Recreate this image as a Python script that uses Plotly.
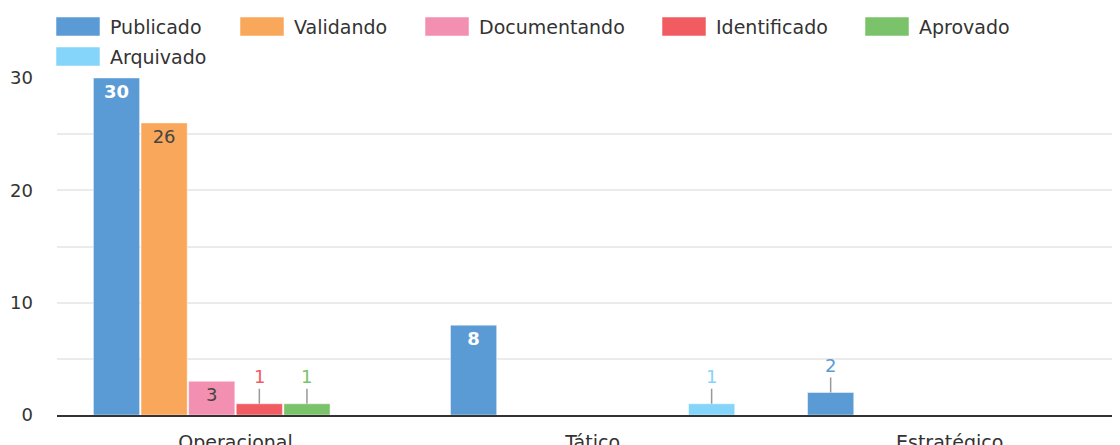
import plotly.graph_objects as go

categories = ["Operacional", "Tático", "Estratégico"]
series_names = ["Publicado", "Validando", "Documentando", "Identificado", "Aprovado", "Arquivado"]
publicado = [30, 8, 2]
validando = [26, None, None]
documentando = [3, None, None]
identificado = [1, None, None]
aprovado = [1, None, None]
arquivado = [None, 1, None]

series_values = [publicado, validando, documentando, identificado, aprovado, arquivado]
colors = ["#5B9BD5", "#F9A75B", "#F38FB0", "#F15C62", "#7AC36A", "#84D5F9"]
inside_font_colors = ["white", "#444444", "#444444", "#444444", "#444444", "#444444"]

BARGAP = 0.2
FONT = "DejaVu Sans, Arial, sans-serif"

# the page body adds an 8px margin, so the figure is drawn 8px smaller
W, H = 1112, 437
ML, MT, MB = 49, 70, 30
PW, PH = W - ML, H - MT - MB

def px_x(px):
    return (px - 8 - ML) / PW

def px_y(py):
    return (H - MB - (py - 8)) / PH

fig = go.Figure()
annotations = []
shapes = []
n = len(series_names)
for k, (name, vals, col, tcol) in enumerate(zip(series_names, series_values, colors, inside_font_colors)):
    if tcol == "white":
        texts = [f"<b>{v}</b>" if v is not None and v >= 3 else "" for v in vals]
    else:
        texts = [str(v) if v is not None and v >= 3 else "" for v in vals]
    fig.add_trace(go.Bar(
        name=name, x=categories, y=vals, marker_color=col,
        marker_line=dict(width=1, color="rgba(255,255,255,0.45)"),
        text=texts, textposition="inside", insidetextanchor="end",
        textfont=dict(color=tcol, size=18, family=FONT),
        hoverinfo="x+y+name",
    ))
    # small values get a label above the bar with a leader line
    offset = -(1 - BARGAP) / 2 + (k + 0.5) * (1 - BARGAP) / n
    for i, v in enumerate(vals):
        if v is not None and v < 3:
            annotations.append(dict(
                x=i + offset, y=v, xref="x", yref="y", text=str(v),
                showarrow=True, arrowhead=0, arrowwidth=1.5, arrowcolor="#999999",
                ax=0, ay=-27, font=dict(color=col, size=18, family=FONT),
            ))

# legend drawn by hand: wide swatches, two rows
legend_pos = [(56, 17), (240, 17), (425, 17), (662, 17), (865, 17), (56, 47)]
for name, col, (lx, ly) in zip(series_names, colors, legend_pos):
    shapes.append(dict(type="rect", xref="paper", yref="paper",
                       x0=px_x(lx), x1=px_x(lx + 44), y0=px_y(ly), y1=px_y(ly + 19),
                       fillcolor=col, line=dict(width=1, color="rgba(255,255,255,0.5)")))
    annotations.append(dict(x=px_x(lx + 52), y=px_y(ly + 9.5), xref="paper", yref="paper",
                            text=name, showarrow=False, xanchor="left", yanchor="middle",
                            font=dict(size=19, color="#333333", family=FONT)))

fig.update_layout(
    barmode="group", bargap=BARGAP, bargroupgap=0.03,
    width=W, height=H,
    margin=dict(l=ML, r=0, t=MT, b=MB, autoexpand=False),
    paper_bgcolor="white", plot_bgcolor="white",
    font=dict(family=FONT, size=18, color="#333333"),
    showlegend=False,
    annotations=annotations,
    shapes=shapes,
)
fig.update_xaxes(range=[-0.5, 2.477], showline=True, linecolor="#333333", linewidth=2,
                 showgrid=False, ticks="", automargin=False, ticklabelstandoff=9,
                 tickfont=dict(size=19, color="#333333"))
fig.update_yaxes(range=[0, 30], tickvals=[0, 10, 20, 30], showgrid=True, gridcolor="#ebebeb",
                 gridwidth=1.5, zeroline=False, ticks="", ticklabelstandoff=23, automargin=False,
                 minor=dict(dtick=5, showgrid=True, gridcolor="#ebebeb", gridwidth=1.5),
                 tickfont=dict(size=18, color="#333333"))

fig.write_html("out.html")
